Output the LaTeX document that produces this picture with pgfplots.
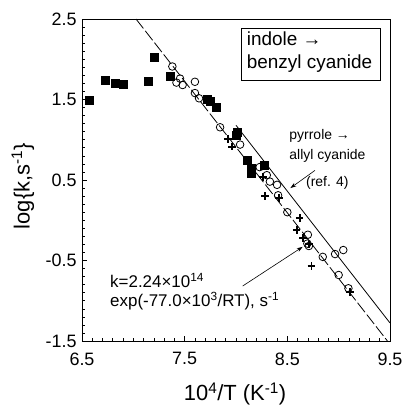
\documentclass[border=0pt]{standalone}
\usepackage{fontspec}
\setmainfont{Liberation Sans}
\usepackage{pgfplots}
\pgfplotsset{compat=1.18}
\usetikzlibrary{arrows.meta}

\begin{document}
\begin{tikzpicture}
\begin{axis}[
  at={(0,0)}, anchor=south west,
  scale only axis, width=308bp, height=322bp,
  xmin=6.5, xmax=9.5, ymin=-1.5, ymax=2.5,
  xtick={6.5,7.5,8.5,9.5}, xticklabels={6.5,7.5,8.5,9.5},
  ytick={-1.5,-0.5,0.5,1.5,2.5}, yticklabels={-1.5,-0.5,0.5,1.5,2.5},
  minor x tick num=9, minor y tick num=9,
  tick align=inside, xtick pos=bottom, ytick pos=left,
  major tick length=5bp, minor tick length=3bp,
  tick style={black, line width=0.6bp},
  axis line style={line width=0.8bp},
  ticklabel style={font=\fontsize{18}{20}\selectfont},
  xticklabel style={yshift=-8bp},
  yticklabel style={xshift=-2bp},
  xlabel={10\textsuperscript{4}/T (K\textsuperscript{-1})},
  ylabel={log\{k,s\textsuperscript{-1}\}},
  label style={font=\fontsize{22}{24}\selectfont},
  xlabel style={at={(axis description cs:0.497,-0.1646)}, anchor=center},
  ylabel style={at={(axis description cs:-0.1916,0.481)}, anchor=center},
]
% fitted lines
\addplot[black, line width=0.8bp, dash pattern=on 12bp off 3bp] coordinates {(7.026,2.5) (9.475,-1.5)};
\addplot[black, line width=0.8bp] coordinates {(8.0,1.18) (9.5,-1.276)};

% filled squares
\addplot[only marks, mark=square*, mark size=4bp, black] coordinates {
(6.57,1.49) (6.73,1.74) (6.82,1.70) (6.90,1.69) (7.14,1.73) (7.20,2.02) (7.36,1.79)
(7.72,1.50) (7.75,1.485) (7.81,1.40) (8.00,1.06) (8.01,1.10) (8.11,0.75) (8.145,0.645)
(8.15,0.58) (8.275,0.69)};

% open circles
\addplot[only marks, mark=o, mark size=3.8bp, black, mark options={line width=0.8bp}] coordinates {
(7.38,1.91) (7.42,1.71) (7.455,1.76) (7.48,1.68) (7.60,1.72) (7.60,1.58) (7.64,1.515)
(7.845,1.155) (8.04,0.94) (8.23,0.66) (8.30,0.56) (8.33,0.48) (8.40,0.44) (8.41,0.31)
(8.50,0.10) (8.70,-0.18) (8.695,-0.29) (8.71,-0.32) (8.845,-0.455) (8.965,-0.42)
(9.045,-0.37) (9.00,-0.68) (9.095,-0.845)};

% crosses
\addplot[only marks, mark=+, mark size=3.8bp, black, mark options={line width=1.9bp}] coordinates {
(7.92,1.01) (7.96,0.915) (8.265,0.54) (8.285,0.30) (8.42,0.28) (8.62,0.025) (8.59,-0.12)
(8.655,-0.22) (8.71,-0.30) (8.735,-0.57) (9.11,-0.895)};

% legend-like box
\draw[line width=0.8bp] (axis cs:8.055,2.384) rectangle (axis cs:9.402,1.742);
\node[anchor=base west, inner sep=0, font=\fontsize{19}{21}\selectfont] at (axis cs:8.104,2.177) {indole →};
\node[anchor=base west, inner sep=0, font=\fontsize{19}{21}\selectfont] at (axis cs:8.104,1.887) {benzyl cyanide};

% pyrrole annotation
\node[anchor=base west, inner sep=0, font=\fontsize{14}{16}\selectfont] at (axis cs:8.519,1.006) {pyrrole →};
\node[anchor=base west, inner sep=0, font=\fontsize{14}{16}\selectfont] at (axis cs:8.519,0.757) {allyl cyanide};
\node[anchor=base west, inner sep=0, font=\fontsize{14}{16}\selectfont] at (axis cs:8.681,0.417) {(ref. 4)};
\draw[-{Stealth[length=6bp,width=4bp]}, line width=0.6bp] (axis cs:8.77,0.62) -- (axis cs:8.53,0.40);

% Arrhenius annotation
\node[anchor=base west, inner sep=0, font=\fontsize{17}{19}\selectfont] at (axis cs:6.773,-0.835) {k=2.24×10\textsuperscript{14}};
\node[anchor=base west, inner sep=0, font=\fontsize{17}{19}\selectfont] at (axis cs:6.773,-1.075) {exp(-77.0×10\textsuperscript{3}/RT), s\textsuperscript{-1}};
\draw[-{Stealth[length=6bp,width=4bp]}, line width=0.6bp] (axis cs:8.065,-0.817) -- (axis cs:8.65,-0.33);
\end{axis}
\path (-82bp,-68bp) rectangle (324bp,341bp);
\end{tikzpicture}
\end{document}
